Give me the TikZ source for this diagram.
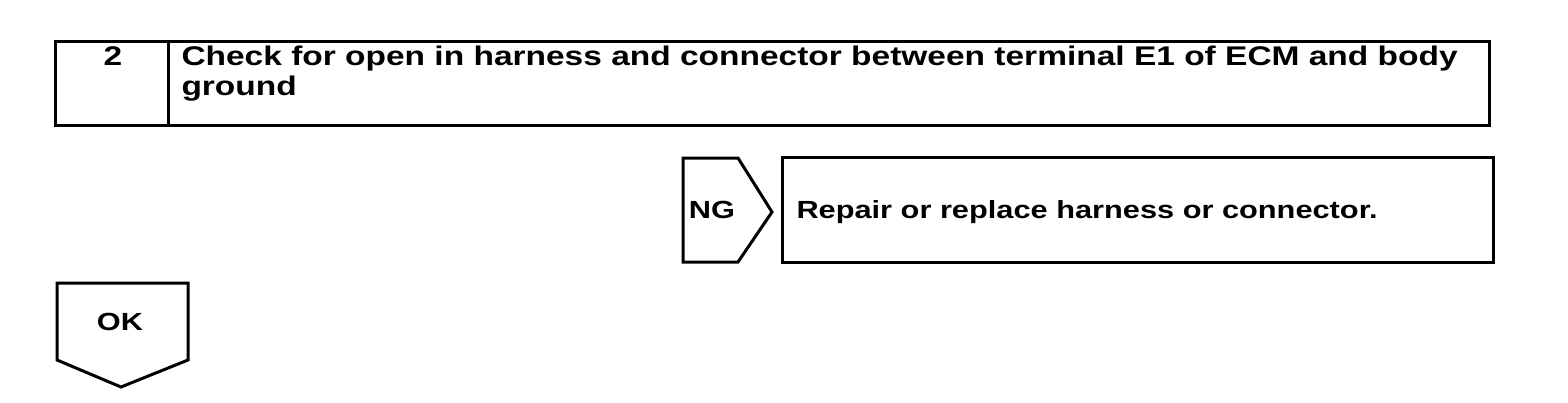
\documentclass[tikz,border=0pt]{standalone}
\usepackage{fontspec}
\setmainfont{Liberation Sans}[FakeStretch=1.24]

\begin{document}
\begin{tikzpicture}[x=0.5pt,y=-0.5pt,line width=1.5pt,line join=miter,
    lbl/.style={font=\fontsize{12.4}{14}\selectfont\bfseries,inner sep=0pt},
    head/.style={font=\fontsize{13.5}{14}\selectfont\bfseries,inner sep=0pt,anchor=base west}]
    \useasboundingbox (0,0) rectangle (1568,402);
    % step header
    \draw (55,41) rectangle (1489,125);
    \draw (168,41) -- (168,125);
    \node[head,anchor=base] (num) at (113,65) {2};
    \node[head] (check) at (180,65)
        {Check for open in harness and connector between terminal E1 of ECM and body};
    \node[head] (ground) at (180,95) {ground};
    % NG branch
    \draw (683,158) -- (738,158) -- (772,212) -- (738,262) -- (683,262) -- cycle;
    \node[lbl,anchor=base] (ng) at (712,218) {NG};
    \draw (782,157) rectangle (1493,262);
    \node[lbl,anchor=base west] (repair) at (795,218) {Repair or replace harness or connector.};
    % OK branch
    \draw (57,283) -- (188,283) -- (188,360) -- (121,387) -- (57,360) -- cycle;
    \node[lbl,anchor=base] (ok) at (120,330) {OK};
\end{tikzpicture}
\end{document}
